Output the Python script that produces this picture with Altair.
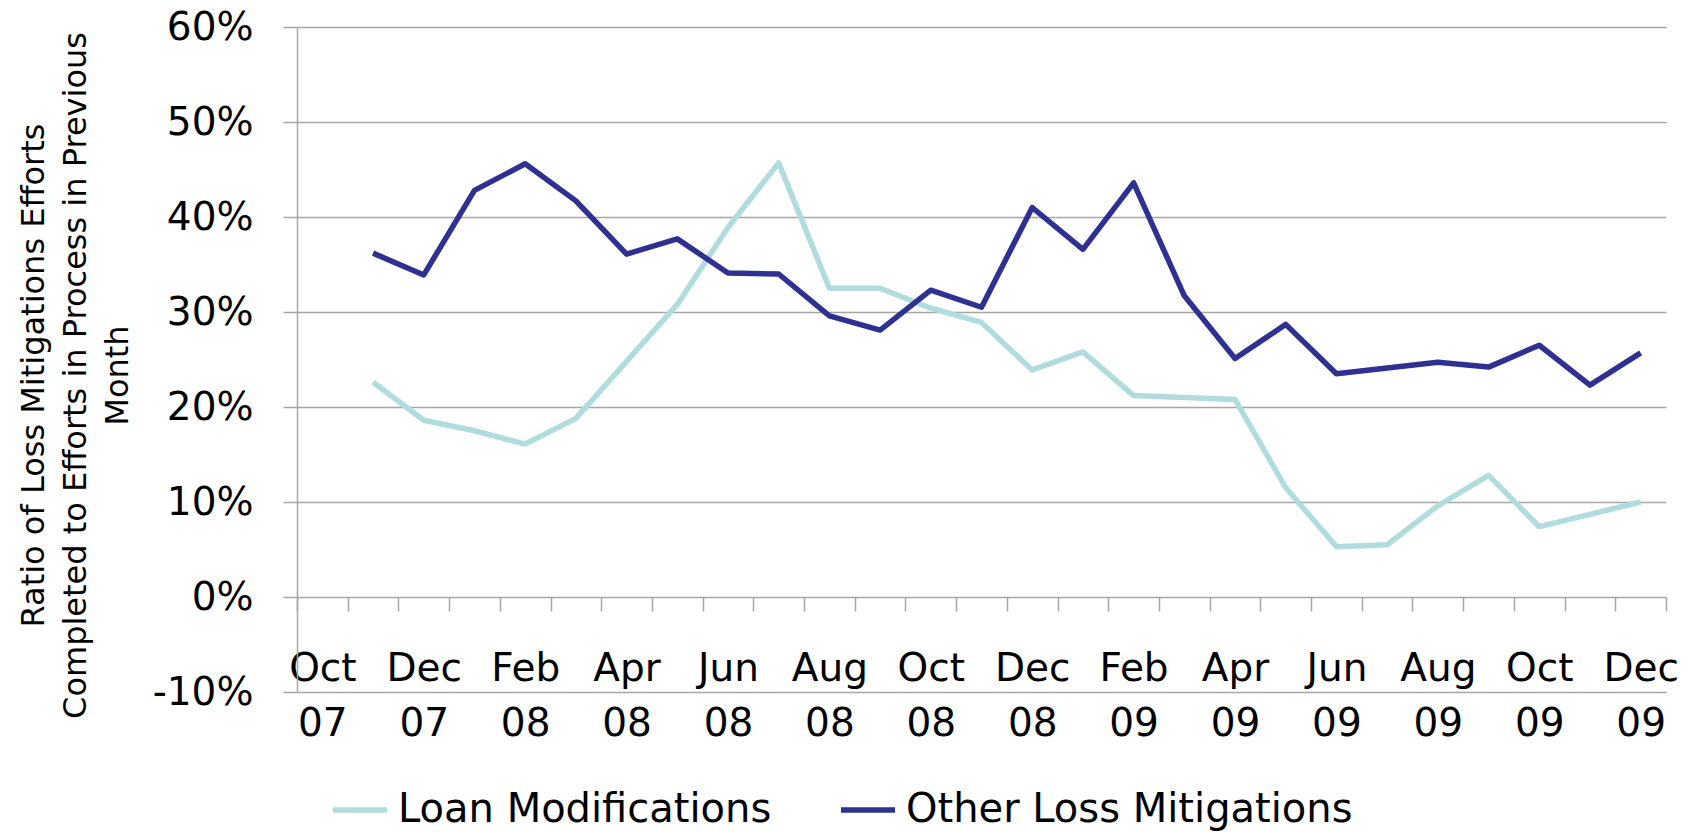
import altair as alt
import pandas as pd

months = ["Oct 07", "Nov 07", "Dec 07", "Jan 08", "Feb 08", "Mar 08", "Apr 08", "May 08",
          "Jun 08", "Jul 08", "Aug 08", "Sep 08", "Oct 08", "Nov 08", "Dec 08", "Jan 09",
          "Feb 09", "Mar 09", "Apr 09", "May 09", "Jun 09", "Jul 09", "Aug 09", "Sep 09",
          "Oct 09", "Nov 09", "Dec 09"]

data_months = months[1:]

loan_mods = [22.6, 18.6, 17.5, 16.1, 18.8, 24.8, 30.8, 38.9, 45.7, 32.5, 32.5, 30.4, 28.9,
             23.9, 25.8, 21.2, 21.0, 20.8, 11.5, 5.3, 5.5, 9.6, 12.8, 7.4, 8.7, 10.0]
other_loss = [36.2, 33.9, 42.8, 45.6, 41.7, 36.1, 37.7, 34.1, 34.0, 29.6, 28.1, 32.3, 30.5,
              41.0, 36.6, 43.6, 31.7, 25.1, 28.7, 23.5, 24.1, 24.7, 24.2, 26.5, 22.3, 25.7]

series_names = ["Loan Modifications", "Other Loss Mitigations"]
series_colors = ["#B0DCDE", "#2E3092"]
y_ticks = [-0.1, 0.0, 0.1, 0.2, 0.3, 0.4, 0.5, 0.6]

rows = []
for name, vals in zip(series_names, [loan_mods, other_loss]):
    for m, v in zip(data_months, vals):
        rows.append({"month": m, "series": name, "value": v / 100.0})
df = pd.DataFrame(rows)

FONT = "DejaVu Sans"
GRID = "#A6A6A6"

chart = alt.Chart(df).mark_line(strokeWidth=5.5, strokeJoin="round").encode(
    x=alt.X(
        "month:N",
        sort=months,
        scale=alt.Scale(domain=months, paddingInner=0, paddingOuter=0),
        axis=alt.Axis(
            title=None,
            domain=False,
            grid=False,
            ticks=True,
            tickBand="extent",
            tickSize=14,
            tickColor=GRID,
            tickWidth=1.5,
            offset=-95,
            labelAngle=0,
            labelFont=FONT,
            labelFontSize=39,
            labelColor="black",
            labelPadding=38,
            labelLineHeight=55,
            labelOverlap=False,
            labelBaseline="top",
            labelExpr="test(/^(Oct|Dec|Feb|Apr|Jun|Aug)/, datum.value) ? split(datum.value, ' ') : ''",
        ),
    ),
    y=alt.Y(
        "value:Q",
        scale=alt.Scale(domain=[-0.1, 0.6], nice=False, zero=False),
        axis=alt.Axis(
            values=y_ticks,
            format=".0%",
            labelExpr="replace(datum.label, '\u2212', '-')",
            title=["Ratio of Loss Mitigations Efforts",
                   "Completed to Efforts in Process in Previous",
                   "Month"],
            titleFont=FONT,
            titleFontSize=32,
            titleFontWeight="normal",
            titleColor="black",
            titleLineHeight=42,
            titlePadding=18,
            titleY=348,
            labelFont=FONT,
            labelFontSize=39,
            labelColor="black",
            labelPadding=30,
            tickSize=14,
            tickColor=GRID,
            tickWidth=1.5,
            domainColor=GRID,
            domainWidth=1.5,
            grid=True,
            gridColor=GRID,
            gridWidth=1.5,
        ),
    ),
    color=alt.Color(
        "series:N",
        scale=alt.Scale(domain=series_names, range=series_colors),
        legend=alt.Legend(
            title=None,
            orient="none",
            direction="horizontal",
            columns=2,
            legendX=33,
            legendY=753,
            symbolType="stroke",
            symbolSize=2916,
            symbolStrokeWidth=5.5,
            labelFont=FONT,
            labelFontSize=40,
            labelColor="black",
            labelOffset=8,
            columnPadding=58,
            labelLimit=1000,
        ),
    ),
).properties(
    width=1369,
    height=665,
    autosize=alt.AutoSizeParams(type="none"),
    padding={"left": 289, "top": 19, "right": 22, "bottom": 140},
).configure_view(stroke=None)

chart.save("out.html", embed_options={"renderer": "svg", "actions": False})
